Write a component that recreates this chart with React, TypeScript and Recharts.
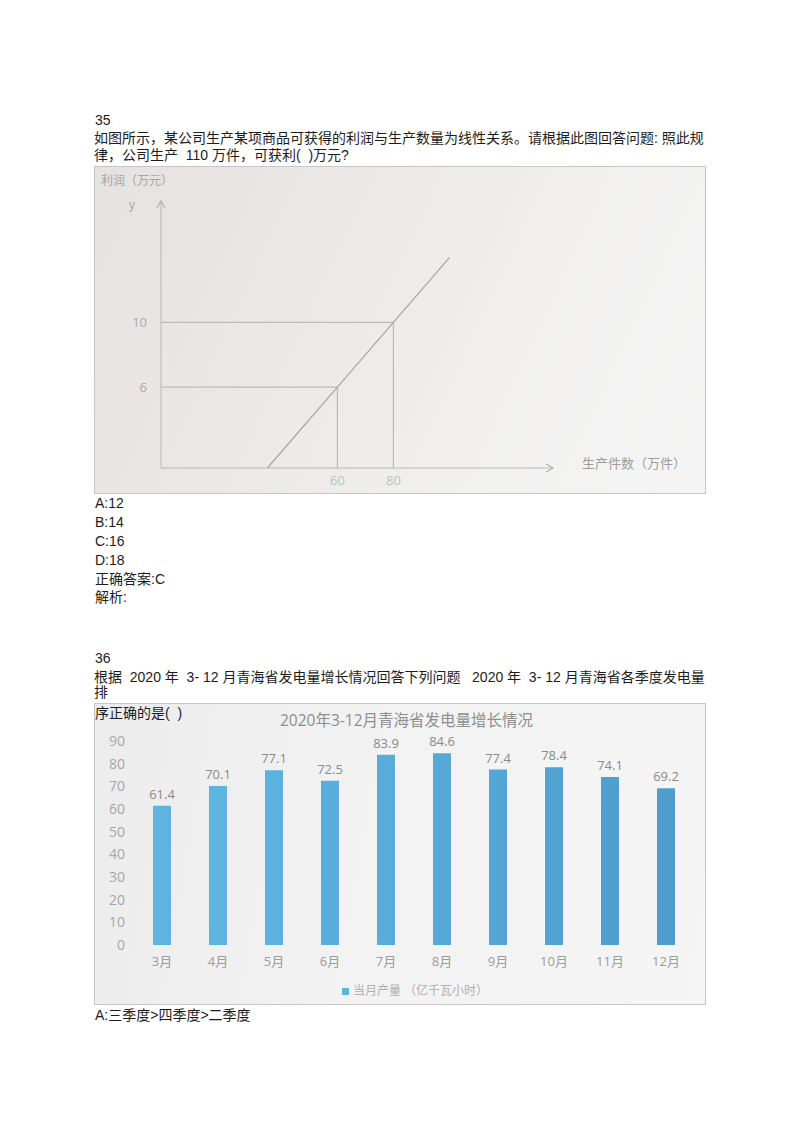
import React from 'react';
import {
  LineChart, Line, XAxis, YAxis, ReferenceLine, ReferenceDot,
  BarChart, Bar, LabelList, Legend,
} from 'recharts';

// 第35题：利润与生产件数（示意图）
const outputX = [35, 60, 80, 100];
const profitY = [1, 6, 10, 14];
const profitTicksX = [60, 80];
const profitTicksY = [6, 10];
const X_MIN = -3;
const X_MAX = 137;
const Y_MIN = 1;
const Y_MAX = 17.5;

// 第36题：2020年3-12月青海省发电量
const months = ['3月', '4月', '5月', '6月', '7月', '8月', '9月', '10月', '11月', '12月'];
const monthlyOutput = [61.4, 70.1, 77.1, 72.5, 83.9, 84.6, 77.4, 78.4, 74.1, 69.2];
const powerTicks = [0, 10, 20, 30, 40, 50, 60, 70, 80, 90];

const profitData = outputX.map((x, i) => ({ x, y: profitY[i] }));
const powerData = months.map((m, i) => ({ month: m, value: monthlyOutput[i] }));

const BODY_FONT = '"Liberation Sans", "Noto Sans CJK SC", sans-serif';
const CHART_FONT = '"Open Sans", "Noto Sans CJK SC", sans-serif';

function Txt(props: { x: number, y: number, size?: number, color?: string, font?: string, children: React.ReactNode, weight?: number }) {
  const size = props.size || 14;
  return (
    <div style={{
      position: 'absolute', left: props.x, top: props.y - 9, lineHeight: '18px',
      fontSize: size, color: props.color || '#1c1c1c', fontFamily: props.font || BODY_FONT,
      whiteSpace: 'nowrap', fontWeight: props.weight || 400,
    }}>{props.children}</div>
  );
}

const upArrow = (p: any) => (
  <path d={`M${p.cx - 4},${p.cy + 7} L${p.cx},${p.cy} L${p.cx + 4},${p.cy + 7}`} fill="none" stroke="#b0b0b0" strokeWidth={1.2} />
);
const rightArrow = (p: any) => (
  <path d={`M${p.cx - 7},${p.cy - 4} L${p.cx},${p.cy} L${p.cx - 7},${p.cy + 4}`} fill="none" stroke="#b0b0b0" strokeWidth={1.2} />
);

function ProfitChart() {
  return (
    <LineChart width={612} height={328} data={profitData} margin={{ top: 35, right: 153, bottom: 6, left: 27 }}>
      <XAxis dataKey="x" type="number" domain={[X_MIN, X_MAX]} ticks={profitTicksX} height={20}
        tickLine={false} stroke="#b8b8b8" tick={{ fill: '#b3c7b9', fontSize: 13, fontFamily: CHART_FONT }} />
      <YAxis type="number" domain={[Y_MIN, Y_MAX]} ticks={profitTicksY} width={40}
        tickLine={false} tickMargin={8} stroke="#b8b8b8" tick={{ fill: '#a9a9a9', fontSize: 13, fontFamily: CHART_FONT }} />
      <ReferenceLine segment={[{ x: X_MIN, y: 10 }, { x: 80, y: 10 }]} stroke="#b6bfb7" strokeWidth={1.2} />
      <ReferenceLine segment={[{ x: 80, y: Y_MIN }, { x: 80, y: 10 }]} stroke="#b6bfb7" strokeWidth={1.2} />
      <ReferenceLine segment={[{ x: X_MIN, y: 6 }, { x: 60, y: 6 }]} stroke="#b6bfb7" strokeWidth={1.2} />
      <ReferenceLine segment={[{ x: 60, y: Y_MIN }, { x: 60, y: 6 }]} stroke="#b6bfb7" strokeWidth={1.2} />
      <ReferenceDot x={X_MIN} y={Y_MAX} r={0} shape={upArrow} />
      <ReferenceDot x={X_MAX} y={Y_MIN} r={0} shape={rightArrow} />
      <Line type="linear" dataKey="y" stroke="#a8a8a8" strokeWidth={1.3} dot={false} isAnimationActive={false} />
    </LineChart>
  );
}

function PowerChart() {
  return (
    <BarChart width={612} height={302} data={powerData} margin={{ top: 38, right: 12, bottom: 30, left: 10 }}>
      <defs>
        <linearGradient id="barFill" x1="134" y1="0" x2="694" y2="0" gradientUnits="userSpaceOnUse">
          <stop offset="0" stopColor="#5cb4df" />
          <stop offset="1" stopColor="#4a97c8" />
        </linearGradient>
      </defs>
      <XAxis dataKey="month" axisLine={false} tickLine={false} tickMargin={6} height={30}
        tick={{ fill: '#9c9c9c', fontSize: 13, fontFamily: CHART_FONT }} />
      <YAxis domain={[0, 90]} ticks={powerTicks} axisLine={false} tickLine={false} tickMargin={3} width={30}
        tick={{ fill: '#a6a6a6', fontSize: 14, fontFamily: CHART_FONT }} />
      <Legend verticalAlign="middle" layout="horizontal" iconType="square" iconSize={7}
        wrapperStyle={{ top: 278, left: 20, width: 612, fontSize: 12, fontFamily: CHART_FONT }}
        formatter={(v: string) => <span style={{ color: '#b0b0b0' }}>{v}</span>} />
      <Bar dataKey="value" name="当月产量 （亿千瓦小时）" fill="url(#barFill)" barSize={18} isAnimationActive={false} legendType="square">
        <LabelList dataKey="value" position="top" offset={7} fill="#8a8a8a" fontSize={13} fontFamily={CHART_FONT} />
      </Bar>
    </BarChart>
  );
}

export default function App() {
  return (
    <div style={{ position: 'absolute', left: 0, top: 0, width: 800, height: 1132, background: '#fff' }}>
      <Txt x={95} y={120}>35</Txt>
      <Txt x={94} y={138}>如图所示，某公司生产某项商品可获得的利润与生产数量为线性关系。请根据此图回答问题: 照此规</Txt>
      <Txt x={94} y={155}>律，公司生产&nbsp; 110 万件，可获利(&nbsp; )万元?</Txt>

      <div style={{
        position: 'absolute', left: 94, top: 166, width: 612, height: 328, boxSizing: 'border-box',
        border: '1px solid #c6c6c6',
        background: 'linear-gradient(115deg, #e6e2e1 0%, #ebe8e7 35%, #f1f0ef 65%, #f5f5f5 100%)',
      }} />
      <div style={{ position: 'absolute', left: 94, top: 166 }}>
        <ProfitChart />
      </div>
      <Txt x={101} y={181} size={12} color="#a5a5a5" font={CHART_FONT}>利润（万元）</Txt>
      <Txt x={129} y={205} size={12} color="#a5a5a5" font={CHART_FONT}>y</Txt>
      <Txt x={582} y={463} size={13} color="#9d9d9d" font={CHART_FONT}>生产件数（万件）</Txt>

      <Txt x={95} y={503}>A:12</Txt>
      <Txt x={95} y={522}>B:14</Txt>
      <Txt x={95} y={541}>C:16</Txt>
      <Txt x={95} y={560}>D:18</Txt>
      <Txt x={95} y={579}>正确答案:C</Txt>
      <Txt x={95} y={597}>解析:</Txt>

      <Txt x={95} y={658}>36</Txt>
      <Txt x={94} y={677}>根据&nbsp; 2020 年&nbsp; 3- 12 月青海省发电量增长情况回答下列问题&nbsp;&nbsp; 2020 年&nbsp; 3- 12 月青海省各季度发电量</Txt>
      <Txt x={94} y={692}>排</Txt>

      <div style={{
        position: 'absolute', left: 94, top: 703, width: 612, height: 302, boxSizing: 'border-box',
        border: '1px solid #c6c6c6',
        background: 'linear-gradient(100deg, #ececec 0%, #f2f2f2 40%, #f5f5f5 100%)',
      }} />
      <div style={{ position: 'absolute', left: 94, top: 703 }}>
        <PowerChart />
      </div>
      <Txt x={280} y={720} size={15.5} color="#8e8e8e" font={CHART_FONT}>2020年3-12月青海省发电量增长情况</Txt>
      <Txt x={95} y={713}>序正确的是(&nbsp; )</Txt>

      <Txt x={95} y={1015}>A:三季度&gt;四季度&gt;二季度</Txt>
    </div>
  );
}
